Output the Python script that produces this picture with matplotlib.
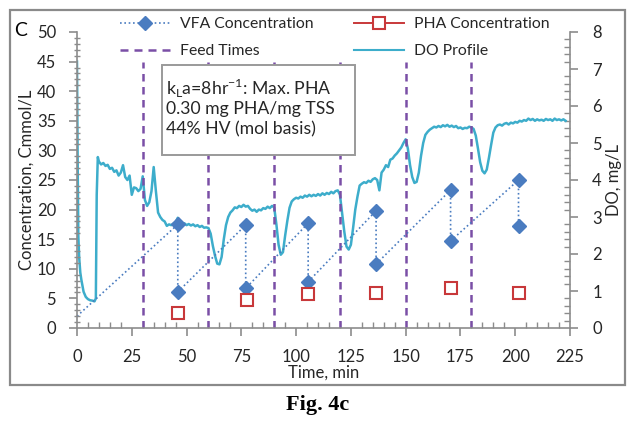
import matplotlib.pyplot as plt
import numpy as np
from matplotlib.lines import Line2D
from matplotlib.patches import Rectangle

plt.rcParams['font.family'] = ['Lato', 'DejaVu Sans']
plt.rcParams['mathtext.fontset'] = 'custom'
plt.rcParams['mathtext.rm'] = 'Lato'

# VFA samples (Cmmol/L), before and after each feed
vfa_time = [0, 46, 46, 77, 77, 105.5, 105.5, 136.5, 136.5, 170.5, 170.5, 201.5, 201.5]
vfa_conc = [2.0, 17.5, 6.1, 17.4, 6.7, 17.7, 7.8, 19.8, 10.8, 23.3, 14.7, 25.0, 17.2]

# PHA samples (Cmmol/L)
pha_time = [46, 77.5, 105.5, 136.5, 170.5, 201.5]
pha_conc = [2.5, 4.8, 5.7, 5.9, 6.7, 5.9]

feed_times = [30, 60, 90, 120, 150, 180]

# DO profile (mg/L)
do_time = [0, 0.3, 0.6, 1, 1.5, 2, 3, 4, 5, 6, 7, 8, 8.6, 9, 9.5] + list(range(10, 224))
do_vals = [7.20, 4.50, 2.50, 1.90, 1.50, 1.30, 0.98, 0.84, 0.78, 0.75, 0.74, 0.72, 0.80, 3.60, 4.62,
           4.50, 4.42, 4.46, 4.38, 4.41, 4.30, 4.33, 4.22, 4.26, 4.12,
           4.20, 4.40, 4.08, 4.00, 4.12, 3.60, 3.80, 3.78, 3.70, 3.76,
           4.10, 3.46, 3.30, 3.40, 3.70, 4.35, 3.70, 3.12, 3.00, 2.92,
           2.88, 2.76, 2.80, 2.78, 2.82, 2.86, 2.98, 2.84, 2.80, 2.83,
           2.78, 2.81, 2.77, 2.80, 2.75, 2.78, 2.73, 2.76, 2.71, 2.72,
           2.70, 2.55, 2.22, 1.95, 1.74, 1.72, 1.92, 2.40, 2.78, 3.00,
           3.12, 3.18, 3.26, 3.24, 3.30, 3.27, 3.33, 3.28, 3.30, 3.22,
           3.17, 3.20, 3.14, 3.20, 3.18, 3.24, 3.22, 3.28, 3.24, 3.30,
           3.26, 2.80, 2.25, 1.98, 2.05, 2.50, 2.90, 3.25, 3.42, 3.48,
           3.52, 3.50, 3.55, 3.52, 3.58, 3.55, 3.60, 3.56, 3.60, 3.57,
           3.62, 3.58, 3.64, 3.60, 3.65, 3.62, 3.68, 3.64, 3.70, 3.72,
           3.60, 3.10, 2.60, 2.20, 2.12, 2.25, 2.70, 3.20, 3.55, 3.85,
           3.90, 3.94, 3.92, 3.98, 3.95, 4.02, 4.05, 4.00, 3.72, 4.20,
           4.28, 4.40, 4.35, 4.55, 4.58, 4.66, 4.72, 4.80, 4.88, 5.00,
           5.10, 4.85, 4.40, 4.08, 3.92, 3.95, 4.20, 4.65, 5.00, 5.22,
           5.30, 5.36, 5.40, 5.44, 5.42, 5.46, 5.43, 5.48, 5.45, 5.49,
           5.44, 5.47, 5.43, 5.46, 5.40, 5.42, 5.38, 5.41, 5.40, 5.44,
           5.42, 5.38, 5.20, 4.85, 4.48, 4.25, 4.18, 4.28, 4.60, 4.95,
           5.28, 5.42, 5.48, 5.50, 5.47, 5.52, 5.54, 5.50, 5.55, 5.53,
           5.57, 5.55, 5.60, 5.58, 5.62, 5.60, 5.66, 5.62, 5.65, 5.60,
           5.64, 5.61, 5.63, 5.60, 5.65, 5.62, 5.64, 5.60, 5.66, 5.62,
           5.64, 5.61, 5.64, 5.60]

c_vfa = '#4A7CC0'
c_pha = '#C8383A'
c_feed = '#7A4FA6'
c_do = '#3DADCB'
c_axis = '#8C8C8C'
c_text = '#262626'

W, H = 636, 429
fig = plt.figure(figsize=(W / 100, H / 100), dpi=100)


def fx(px):
    return px / W


def fy(py):
    return 1 - py / H


# outer frame
fig.patches.append(Rectangle((fx(10), fy(385)), fx(615), 375 / H, transform=fig.transFigure,
                             fill=False, edgecolor='#8a8a8a', lw=1.6))

ax = fig.add_axes([fx(77), fy(328), fx(493), 296 / H])
ax2 = ax.twinx()
ax.set_zorder(ax2.get_zorder() + 1)
ax.patch.set_visible(False)

ax2.plot(do_time, do_vals, color=c_do, lw=1.8)

ax.vlines(feed_times, 0, 45, colors=c_feed, lw=1.8, linestyles=(0, (3.0, 2.2)))
ax.plot(vfa_time, vfa_conc, color=c_vfa, lw=1.2, linestyle=(0, (1, 1.6)),
        marker='D', markersize=7, markevery=list(range(1, len(vfa_time))), clip_on=False)
ax.plot(pha_time, pha_conc, linestyle='none', marker='s', markersize=9,
        markerfacecolor='white', markeredgecolor=c_pha, markeredgewidth=1.5)

ax.set_xlim(0, 225)
ax.set_ylim(0, 50)
ax2.set_ylim(0, 8)
ax.set_xticks(np.arange(0, 226, 25))
ax.set_xticks(np.arange(0, 226, 5), minor=True)
ax.set_yticks(np.arange(0, 51, 5))
ax.set_yticks(np.arange(0, 51, 1), minor=True)
ax2.set_yticks(np.arange(0, 9, 1))
ax2.set_yticks(np.arange(0, 8.01, 0.2), minor=True)

for a in (ax, ax2):
    a.spines['top'].set_visible(False)
    for s in a.spines.values():
        s.set_color(c_axis)
        s.set_linewidth(1.2)
ax.spines['right'].set_visible(False)
ax2.spines['left'].set_visible(False)
ax2.spines['bottom'].set_visible(False)

ax.tick_params(axis='x', which='major', direction='out', length=6, width=1.2, color=c_axis,
               labelsize=12, labelcolor=c_text, pad=9)
ax.tick_params(axis='x', which='minor', direction='in', length=4, width=1, color=c_axis)
ax.tick_params(axis='y', which='major', direction='out', length=6, width=1.2, color=c_axis,
               labelsize=12, labelcolor=c_text, pad=9)
ax.tick_params(axis='y', which='minor', direction='inout', length=4, width=1, color=c_axis)
ax2.tick_params(axis='y', which='major', direction='out', length=6, width=1.2, color=c_axis,
                labelsize=12, labelcolor=c_text, pad=10)
ax2.tick_params(axis='y', which='minor', direction='in', length=4, width=1, color=c_axis)

ax.set_xlabel('Time, min', fontsize=12, color=c_text, labelpad=0)
ax.set_ylabel('Concentration, Cmmol/L', fontsize=12, color=c_text, labelpad=2)
ax2.set_ylabel('DO, mg/L', fontsize=12, color=c_text, labelpad=3)

# panel letter
fig.text(fx(14), fy(30), 'C', fontsize=14, color='black', va='center', ha='left')

# annotation box
fig.patches.append(Rectangle((fx(162), fy(155)), fx(193), 90 / H, transform=fig.transFigure,
                             facecolor='white', edgecolor='#9a9a9a', lw=1.4, zorder=5))
box_lines = [r'k$_\mathregular{L}$a=8hr$^\mathregular{-1}$: Max. PHA',
             '0.30 mg PHA/mg TSS',
             '44% HV (mol basis)']
for line, py in zip(box_lines, [88, 109, 129]):
    fig.text(fx(166), fy(py), line, fontsize=12.7, color=c_text, va='center', ha='left', zorder=6)

handles = [
    Line2D([], [], color=c_vfa, lw=1.2, linestyle=(0, (1, 1.6)), marker='D', markersize=7),
    Line2D([], [], color=c_feed, lw=1.8, linestyle=(0, (3.2, 2.4))),
    Line2D([], [], color=c_pha, lw=1.4, marker='s', markersize=9,
           markerfacecolor='white', markeredgecolor=c_pha, markeredgewidth=1.5),
    Line2D([], [], color=c_do, lw=1.5),
]
labels = ['VFA Concentration', 'Feed Times', 'PHA Concentration', 'DO Profile']
fig.legend(handles, labels, ncol=2, frameon=False, fontsize=11.3, loc='upper left',
           bbox_to_anchor=(fx(120), fy(17)), borderpad=0, borderaxespad=0,
           handlelength=3.2, handletextpad=0.6, columnspacing=2.6, labelspacing=0.85,
           labelcolor=c_text)

fig.text(0.5, fy(405), 'Fig. 4c', fontsize=16, fontweight='bold', family='Liberation Serif',
         ha='center', va='center', color='black')

fig.savefig('out.png', dpi=100)
